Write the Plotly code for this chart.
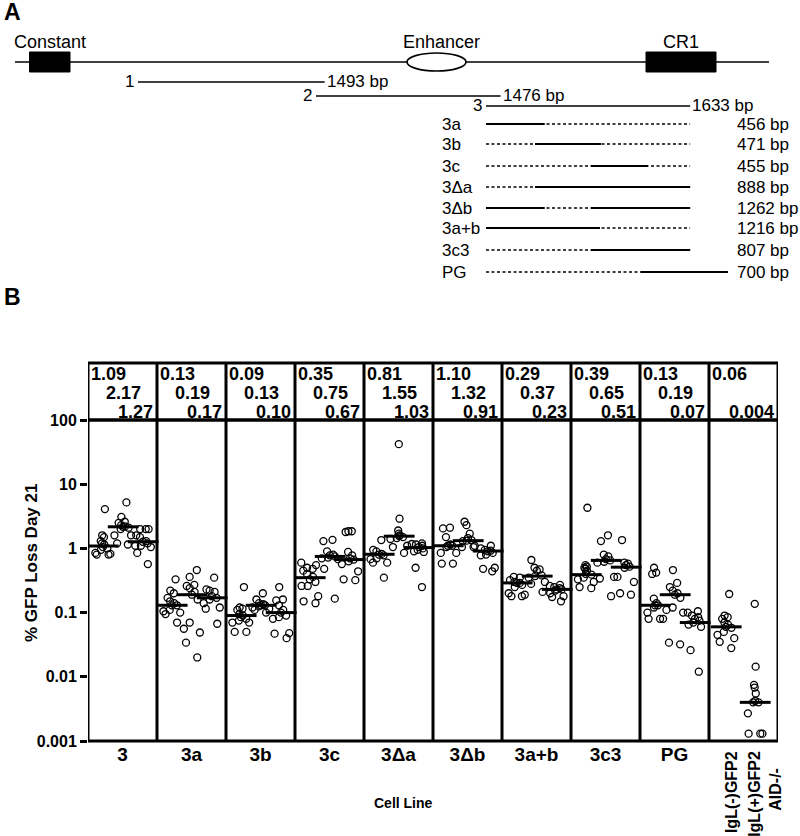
import plotly.graph_objects as go

W, H = 800, 836
FONT = "Arial, Liberation Sans, Helvetica, sans-serif"

# ======================= Panel B data =======================
cell_lines = ["3", "3a", "3b", "3c", "3Δa", "3Δb", "3a+b", "3c3", "PG"]
control_neg_label = "IgL(-)GFP2"
control_pos_label = "IgL(+)GFP2"
control_pos_sub = "AID-/-"
y_tick_vals = [0.001, 0.01, 0.1, 1, 10, 100]
y_tick_text = ["0.001", "0.01", "0.1", "1", "10", "100"]

# % GFP loss at day 21, three subclones per construct
c3_1 = [4.1, 1.6, 1.5, 1.3, 1.2, 1.15, 1.05, 1.0, 0.95, 0.85, 0.82, 0.8, 0.8]
c3_2 = [5.2, 3.1, 2.6, 2.5, 2.3, 2.2, 2.17, 2.1, 2.0, 1.6, 1.6, 1.2, 1.15]
c3_3 = [2.0, 2.0, 2.0, 1.6, 1.5, 1.3, 1.27, 1.2, 1.1, 1.1, 1.05, 0.85, 0.57]
c3a_1 = [0.33, 0.22, 0.2, 0.17, 0.15, 0.14, 0.13, 0.13, 0.11, 0.105, 0.1, 0.095, 0.07]
c3a_2 = [0.46, 0.36, 0.27, 0.26, 0.24, 0.21, 0.19, 0.16, 0.07, 0.056, 0.049, 0.034, 0.02]
c3a_3 = [0.35, 0.23, 0.22, 0.21, 0.18, 0.17, 0.16, 0.14, 0.12, 0.115, 0.067]
c3b_1 = [0.25, 0.12, 0.115, 0.11, 0.095, 0.09, 0.085, 0.08, 0.075, 0.07, 0.07, 0.05, 0.05]
c3b_2 = [0.2, 0.16, 0.14, 0.135, 0.13, 0.13, 0.125, 0.12, 0.115, 0.11, 0.1]
c3b_3 = [0.25, 0.16, 0.155, 0.13, 0.11, 0.1, 0.09, 0.085, 0.08, 0.048, 0.047, 0.04]
c3c_1 = [0.6, 0.55, 0.5, 0.48, 0.45, 0.4, 0.36, 0.33, 0.3, 0.26, 0.26, 0.18, 0.15, 0.14]
c3c_2 = [1.36, 1.3, 0.9, 0.8, 0.78, 0.75, 0.72, 0.7, 0.68, 0.48, 0.165]
c3c_3 = [1.85, 1.85, 1.8, 0.88, 0.78, 0.7, 0.67, 0.63, 0.57, 0.44, 0.33, 0.32]
c3da_1 = [1.35, 0.95, 0.9, 0.82, 0.8, 0.78, 0.7, 0.68, 0.6, 0.6, 0.35]
c3da_2 = [42, 2.9, 1.9, 1.7, 1.6, 1.55, 1.5, 1.45, 1.4, 1.1, 1.05, 0.85]
c3da_3 = [1.2, 1.17, 1.15, 1.1, 1.05, 1.0, 0.95, 0.9, 0.88, 0.5, 0.25]
c3db_1 = [2.1, 2.05, 1.5, 1.15, 1.1, 1.1, 1.05, 0.85, 0.85, 0.58, 0.58]
c3db_2 = [2.6, 2.3, 1.7, 1.45, 1.35, 1.32, 1.3, 1.1, 1.05, 1.05]
c3db_3 = [1.1, 1.0, 0.95, 0.92, 0.9, 0.85, 0.8, 0.78, 0.5, 0.48, 0.44]
c3ab_1 = [0.36, 0.35, 0.32, 0.3, 0.29, 0.29, 0.27, 0.25, 0.2, 0.19, 0.18, 0.18]
c3ab_2 = [0.66, 0.5, 0.47, 0.45, 0.38, 0.37, 0.35, 0.3, 0.28, 0.21]
c3ab_3 = [0.27, 0.26, 0.25, 0.24, 0.23, 0.23, 0.22, 0.2, 0.18, 0.175, 0.15]
c3c3_1 = [4.3, 0.55, 0.52, 0.5, 0.48, 0.45, 0.4, 0.39, 0.35, 0.33, 0.3, 0.25, 0.24]
c3c3_2 = [1.6, 1.3, 0.8, 0.75, 0.68, 0.65, 0.62, 0.6, 0.36, 0.34, 0.18]
c3c3_3 = [1.35, 0.6, 0.58, 0.55, 0.52, 0.5, 0.36, 0.3, 0.2, 0.19]
cPG_1 = [0.5, 0.42, 0.4, 0.165, 0.14, 0.13, 0.13, 0.12, 0.1, 0.08, 0.08, 0.08]
cPG_2 = [0.46, 0.29, 0.25, 0.22, 0.2, 0.19, 0.17, 0.12, 0.11, 0.1, 0.034, 0.032]
cPG_3 = [0.105, 0.1, 0.09, 0.085, 0.08, 0.075, 0.07, 0.065, 0.06, 0.026, 0.012]
igl_neg = [0.195, 0.09, 0.085, 0.08, 0.07, 0.065, 0.06, 0.058, 0.05, 0.045, 0.04, 0.035, 0.028]
igl_pos_aid = [0.137, 0.0144, 0.0075, 0.0068, 0.0055, 0.0042, 0.004, 0.004, 0.0027, 0.0013, 0.0013, 0.0013]

# medians (shown as bars and in the table above the plot)
med_3 = [1.09, 2.17, 1.27]
med_3a = [0.13, 0.19, 0.17]
med_3b = [0.09, 0.13, 0.10]
med_3c = [0.35, 0.75, 0.67]
med_3da = [0.81, 1.55, 1.03]
med_3db = [1.10, 1.32, 0.91]
med_3ab = [0.29, 0.37, 0.23]
med_3c3 = [0.39, 0.65, 0.51]
med_PG = [0.13, 0.19, 0.07]
med_igl_neg = 0.06
med_igl_pos = 0.004

# ======================= Panel A data (schematic, bp units) =======================
locus_length = 6032
constant_exon = (116, 440)
enhancer = (3136, 3608)
cr1_exon = (5048, 5608)
fragment_names = ["1", "2", "3"]
fragment_starts = [984, 2408, 3768]
fragment_lengths = [1493, 1476, 1633]
construct_names = ["3a", "3b", "3c", "3Δa", "3Δb", "3a+b", "3c3", "PG"]
construct_sizes = [456, 471, 455, 888, 1262, 1216, 807, 700]
# retained (solid) parts relative to the start of fragment 3
construct_solid = [
    [(0, 470)],
    [(392, 920)],
    [(840, 1296)],
    [(392, 1633)],
    [(0, 470), (840, 1633)],
    [(0, 912)],
    [(840, 1633)],
    [(1240, 1936)],
]

# ======================= Layout geometry =======================
PX0, PX1 = 88, 778        # plot area, pixels
PY_TOP, PY_BOT = 420, 741
TABLE_TOP = 363


def py(p):
    return (H - p) / H


fig = go.Figure()

# ---------- Panel B traces ----------
groups = [
    [c3_1, c3_2, c3_3], [c3a_1, c3a_2, c3a_3], [c3b_1, c3b_2, c3b_3],
    [c3c_1, c3c_2, c3c_3], [c3da_1, c3da_2, c3da_3], [c3db_1, c3db_2, c3db_3],
    [c3ab_1, c3ab_2, c3ab_3], [c3c3_1, c3c3_2, c3c3_3], [cPG_1, cPG_2, cPG_3],
]
medians = [med_3, med_3a, med_3b, med_3c, med_3da, med_3db, med_3ab, med_3c3, med_PG]
sub_offsets = [-0.28, 0.01, 0.30]
ctrl_offsets = [-0.25, 0.17]

pt_marker = dict(symbol="circle-open", size=7, color="black", line=dict(width=1.3, color="black"))


def add_group(xpos, vals):
    fig.add_trace(go.Box(
        x=[xpos] * len(vals), y=vals, boxpoints="all", jitter=1, pointpos=0,
        width=0.3, line=dict(width=0, color="rgba(0,0,0,0)"), fillcolor="rgba(0,0,0,0)",
        marker=pt_marker, showlegend=False, hoverinfo="y",
    ))


med_x, med_y = [], []
for i, (subs, meds) in enumerate(zip(groups, medians)):
    for off, vals, m in zip(sub_offsets, subs, meds):
        add_group(i + off, vals)
        med_x.append(i + off)
        med_y.append(m)

add_group(9 + ctrl_offsets[0], igl_neg)
add_group(9 + ctrl_offsets[1], igl_pos_aid)
med_x += [9 + ctrl_offsets[0], 9 + ctrl_offsets[1]]
med_y += [med_igl_neg, med_igl_pos]

fig.add_trace(go.Scatter(
    x=med_x, y=med_y, mode="markers", showlegend=False, hoverinfo="skip",
    marker=dict(symbol="line-ew", size=22, line=dict(width=3, color="black")),
))

# ---------- Panel B frame ----------
shapes = []
LW = 3
frame = dict(color="black", width=LW)
shapes.append(dict(type="rect", xref="x", yref="paper", x0=-0.5, x1=9.5,
                   y0=py(PY_BOT), y1=py(PY_TOP), line=frame, layer="above"))
shapes.append(dict(type="rect", xref="x", yref="paper", x0=-0.5, x1=9.5,
                   y0=py(PY_TOP), y1=py(TABLE_TOP), line=frame, layer="above"))
for i in range(9):
    shapes.append(dict(type="line", xref="x", yref="paper", x0=i + 0.5, x1=i + 0.5,
                       y0=py(PY_BOT), y1=py(TABLE_TOP), line=frame, layer="above"))

annotations = []


def fmt(v):
    return f"{v:.3f}" if v < 0.01 else f"{v:.2f}"


TFONT = dict(family=FONT, size=18, color="black")
row_y = [py(374.5), py(393), py(411.5)]
for i, meds in enumerate(medians):
    annotations.append(dict(x=i - 0.5 + 0.03, y=row_y[0], xref="x", yref="paper", xanchor="left",
                            yanchor="middle", text=f"<b>{fmt(meds[0])}</b>", showarrow=False, font=TFONT,
                            borderpad=0))
    annotations.append(dict(x=i + 0.02, y=row_y[1], xref="x", yref="paper", xanchor="center",
                            yanchor="middle", text=f"<b>{fmt(meds[1])}</b>", showarrow=False, font=TFONT,
                            borderpad=0))
    annotations.append(dict(x=i + 0.5 - 0.05, y=row_y[2], xref="x", yref="paper", xanchor="right",
                            yanchor="middle", text=f"<b>{fmt(meds[2])}</b>", showarrow=False, font=TFONT,
                            borderpad=0))
annotations.append(dict(x=9 - 0.5 + 0.03, y=row_y[0], xref="x", yref="paper", xanchor="left",
                        yanchor="middle", text=f"<b>{fmt(med_igl_neg)}</b>", showarrow=False, font=TFONT,
                        borderpad=0))
annotations.append(dict(x=9 + 0.5 - 0.05, y=row_y[2], xref="x", yref="paper", xanchor="right",
                        yanchor="middle", text=f"<b>{fmt(med_igl_pos)}</b>", showarrow=False, font=TFONT,
                        borderpad=0))

# rotated control labels
LFONT = dict(family=FONT, size=16, color="black")
annotations.append(dict(x=9 - 0.18, y=py(749), xref="x", yref="paper", xanchor="center", yanchor="top",
                        textangle=-90, text=f"<b>{control_neg_label}</b>", showarrow=False, font=LFONT))
annotations.append(dict(x=9 + 0.15, y=py(749), xref="x", yref="paper", xanchor="center", yanchor="top",
                        textangle=-90, text=f"<b>{control_pos_label}</b>", showarrow=False, font=LFONT))
annotations.append(dict(x=9 + 0.46, y=py(766), xref="x", yref="paper", xanchor="center", yanchor="top",
                        textangle=-90, text=f"<b>{control_pos_sub}</b>", showarrow=False, font=LFONT))

annotations.append(dict(x=31 / W, y=py(563), xref="paper", yref="paper", xanchor="center", yanchor="middle",
                        textangle=-90, text="<b>% GFP Loss Day 21</b>", showarrow=False,
                        font=dict(family=FONT, size=17, color="black")))
annotations.append(dict(x=403 / W, y=py(803), xref="paper", yref="paper", xanchor="center", yanchor="middle",
                        text="<b>Cell Line</b>", showarrow=False, font=dict(family=FONT, size=14, color="black")))
annotations.append(dict(x=12 / W, y=py(12), xref="paper", yref="paper", xanchor="center", yanchor="middle",
                        text="<b>A</b>", showarrow=False, font=dict(family=FONT, size=23, color="black")))
annotations.append(dict(x=12 / W, y=py(297), xref="paper", yref="paper", xanchor="center", yanchor="middle",
                        text="<b>B</b>", showarrow=False, font=dict(family=FONT, size=23, color="black")))

# ======================= Panel A (schematic on x2/y2) =======================
Y_LABEL, Y_MAIN = 42, 62
frag_rows = [82, 96, 106]
construct_rows = [124, 144, 166, 187, 208, 228, 250, 272]
SFONT = dict(family=FONT, size=18, color="black")
BPFONT = dict(family=FONT, size=17, color="black")
BP_PER_PX = 8


def line_trace(x0, x1, y, dash="solid", width=1.6):
    fig.add_trace(go.Scatter(x=[x0, x1], y=[y, y], xaxis="x2", yaxis="y2", mode="lines",
                             line=dict(color="black", width=width, dash=dash),
                             showlegend=False, hoverinfo="skip"))


line_trace(0, locus_length, Y_MAIN)
for (a, b), name in [(constant_exon, "Constant"), (cr1_exon, "CR1")]:
    shapes.append(dict(type="rect", xref="x2", yref="y2", x0=a, x1=b, y0=Y_MAIN - 10, y1=Y_MAIN + 10,
                       fillcolor="black", line=dict(color="black", width=1), layer="above"))
    annotations.append(dict(x=(a + b) / 2, y=Y_LABEL, xref="x2", yref="y2", text=name, showarrow=False,
                            font=SFONT, xanchor="center", yanchor="middle"))
shapes.append(dict(type="circle", xref="x2", yref="y2", x0=enhancer[0], x1=enhancer[1],
                   y0=Y_MAIN - 9, y1=Y_MAIN + 9, fillcolor="white", line=dict(color="black", width=1.6),
                   layer="above"))
annotations.append(dict(x=(enhancer[0] + enhancer[1]) / 2 + 40, y=Y_LABEL, xref="x2", yref="y2",
                        text="Enhancer", showarrow=False, font=SFONT, xanchor="center", yanchor="middle"))

for name, s, L, yrow in zip(fragment_names, fragment_starts, fragment_lengths, frag_rows):
    line_trace(s, s + L, yrow)
    annotations.append(dict(x=s - 2 * BP_PER_PX, y=yrow - 1, xref="x2", yref="y2", text=name, showarrow=False,
                            font=BPFONT, xanchor="right", yanchor="middle"))
    annotations.append(dict(x=s + L, y=yrow - 1, xref="x2", yref="y2", text=f"{L} bp", showarrow=False,
                            font=BPFONT, xanchor="left", yanchor="middle"))

f3 = fragment_starts[2]
f3_len = fragment_lengths[2]
for name, size, solids, yrow in zip(construct_names, construct_sizes, construct_solid, construct_rows):
    line_trace(f3, f3 + f3_len, yrow, dash="3px,2.5px", width=1.5)
    for a, b in solids:
        line_trace(f3 + a, f3 + b, yrow, width=1.9)
    annotations.append(dict(x=(440 - 15) * BP_PER_PX, y=yrow, xref="x2", yref="y2", text=name,
                            showarrow=False, font=BPFONT, xanchor="left", yanchor="middle"))
    annotations.append(dict(x=(735 - 15) * BP_PER_PX, y=yrow, xref="x2", yref="y2", text=f"{size} bp",
                            showarrow=False, font=BPFONT, xanchor="left", yanchor="middle"))

# ======================= Layout =======================
fig.update_layout(
    template="none",
    width=W, height=H, margin=dict(l=0, r=0, t=0, b=0, pad=0), autosize=False,
    paper_bgcolor="white", plot_bgcolor="white",
    boxmode="overlay", showlegend=False,
    font=dict(family=FONT, color="black"),
    xaxis=dict(domain=[PX0 / W, PX1 / W], range=[-0.5, 9.5], tickmode="array",
               tickvals=list(range(len(cell_lines))), ticktext=[f"<b>{c}</b>" for c in cell_lines],
               tickfont=dict(family=FONT, size=19, color="black"), ticks="", showgrid=False,
               zeroline=False, showline=False, anchor="y", fixedrange=True, automargin=False),
    yaxis=dict(domain=[py(PY_BOT), py(PY_TOP)], type="log", range=[-3, 2], tickmode="array",
               tickvals=y_tick_vals, ticktext=[f"<b>{t}</b>" for t in y_tick_text],
               tickfont=dict(family=FONT, size=16, color="black"), ticks="outside", ticklen=7,
               tickwidth=3, tickcolor="black", showgrid=False, zeroline=False, showline=False,
               anchor="x", fixedrange=True, automargin=False),
    xaxis2=dict(domain=[0, 1], range=[-15 * BP_PER_PX, (W - 15) * BP_PER_PX], visible=False,
                anchor="y2", fixedrange=True, automargin=False),
    yaxis2=dict(domain=[py(290), 1], range=[290, 0], visible=False, anchor="x2", fixedrange=True,
                automargin=False),
    shapes=shapes, annotations=annotations,
)

fig.write_html("out.html", config={"responsive": False, "displayModeBar": False},
               post_script="document.body.style.margin='0';document.body.style.overflow='hidden';")
